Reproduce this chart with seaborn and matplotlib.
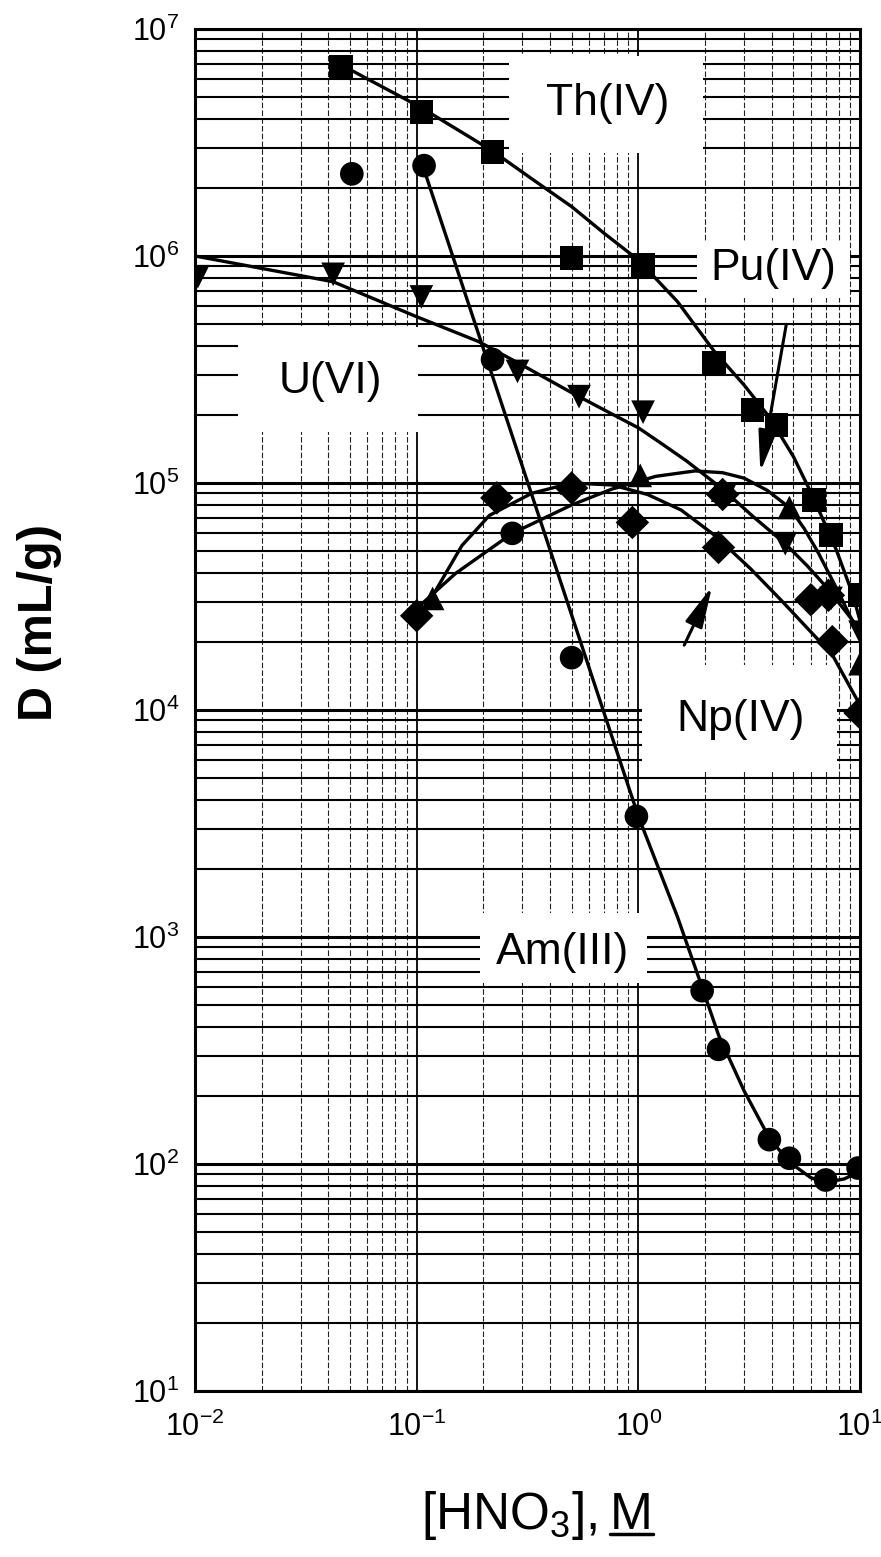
import numpy as np
import pandas as pd
import matplotlib
matplotlib.use("Agg")
import matplotlib.pyplot as plt
from matplotlib.patches import Rectangle
from matplotlib.lines import Line2D
from matplotlib.ticker import NullFormatter
import seaborn as sns

# measured points (HNO3 molarity, D in mL/g)
th_x = [0.0455, 0.105, 0.22, 0.5, 1.05, 2.2, 3.27, 4.2, 6.2, 7.4, 10.0]
th_y = [6.8e6, 4.3e6, 2.87e6, 9.8e5, 9.1e5, 3.4e5, 2.1e5, 1.8e5, 8.4e4, 5.9e4, 3.2e4]

am_x = [0.051, 0.108, 0.22, 0.27, 0.5, 0.98, 1.94, 2.3, 3.9, 4.8, 7.0, 9.8]
am_y = [2.3e6, 2.5e6, 3.5e5, 6.0e4, 1.7e4, 3.4e3, 5.8e2, 3.2e2, 1.28e2, 1.06e2, 85, 96]

u_x = [0.0103, 0.042, 0.105, 0.285, 0.54, 1.05, 2.45, 4.6, 7.4, 10.0]
u_y = [8.1e5, 8.3e5, 6.6e5, 3.1e5, 2.4e5, 2.05e5, 8.8e4, 5.4e4, 3.1e4, 2.2e4]

pu_x = [0.118, 0.5, 1.02, 2.4, 4.8, 7.4, 10.0]
pu_y = [3.1e4, 1.0e5, 1.08e5, 9.3e4, 7.8e4, 3.4e4, 1.6e4]

np_x = [0.1, 0.23, 0.5, 0.94, 2.3, 2.4, 6.0, 7.2, 7.5, 10.0]
np_y = [2.6e4, 8.6e4, 9.5e4, 6.7e4, 5.2e4, 8.9e4, 3.06e4, 3.2e4, 2.0e4, 9.7e3]

# fitted curves
th_cx = [0.045, 0.105, 0.22, 0.33, 0.5, 0.7, 1.0, 1.5, 2.2, 3.0, 3.9, 5.0, 6.1, 7.8, 9.3, 10.2]
th_cy = [7.0e6, 4.5e6, 2.9e6, 2.19e6, 1.65e6, 1.26e6, 9.6e5, 6.3e5, 3.8e5, 2.7e5,
         1.95e5, 1.31e5, 8.8e4, 5.1e4, 3.2e4, 2.3e4]

u_cx = [0.01, 0.042, 0.1, 0.19, 0.3, 0.5, 0.7, 1.0, 1.3, 1.65, 2.0, 2.4, 3.3, 4.6,
        5.8, 7.2, 8.5, 10.2]
u_cy = [1.0e6, 7.7e5, 5.4e5, 4.2e5, 3.3e5, 2.5e5, 2.1e5, 1.75e5, 1.47e5, 1.25e5,
        1.08e5, 9.4e4, 7.1e4, 5.4e4, 4.3e4, 3.4e4, 2.76e4, 2.2e4]

am_cx = [0.108, 1.0, 1.5, 1.94, 2.3, 3.0, 3.9, 4.8, 6.0, 7.0, 8.5, 10.0]
am_cy = [2.4e6, 3.4e3, 1.23e3, 6.0e2, 3.7e2, 2.1e2, 1.3e2, 1.02e2, 87, 83, 86, 93]

pu_cx = [0.096, 0.15, 0.27, 0.5, 0.76, 1.2, 1.8, 2.4, 3.0, 3.8, 4.8, 5.6, 6.5, 8.0, 10.0]
pu_cy = [2.7e4, 4.0e4, 6.0e4, 8.0e4, 9.4e4, 1.07e5, 1.13e5, 1.11e5, 1.05e5, 9.3e4,
         7.8e4, 6.3e4, 4.9e4, 3.3e4, 2.1e4]

np_cx = [0.115, 0.16, 0.213, 0.33, 0.5, 0.76, 1.1, 1.56, 2.2, 3.2, 4.4, 7.5, 10.0]
np_cy = [3.05e4, 5.3e4, 7.2e4, 9.0e4, 1.0e5, 9.8e4, 8.9e4, 7.6e4, 5.9e4, 4.2e4,
         3.05e4, 1.75e4, 1.05e4]

sns.set_style("white")
plt.rcParams['font.family'] = ['Liberation Sans', 'DejaVu Sans']
plt.rcParams['mathtext.fontset'] = 'custom'
plt.rcParams['mathtext.rm'] = 'Liberation Sans'
plt.rcParams['mathtext.it'] = 'Liberation Sans:italic'
plt.rcParams['mathtext.bf'] = 'Liberation Sans:bold'
plt.rcParams['axes.unicode_minus'] = False
plt.rcParams['text.color'] = 'black'
plt.rcParams['xtick.color'] = 'black'
plt.rcParams['ytick.color'] = 'black'
plt.rcParams['axes.labelcolor'] = 'black'

pts = pd.concat([
    pd.DataFrame({'conc': th_x, 'D': th_y, 'ion': 'Th'}),
    pd.DataFrame({'conc': am_x, 'D': am_y, 'ion': 'Am'}),
    pd.DataFrame({'conc': u_x, 'D': u_y, 'ion': 'U'}),
    pd.DataFrame({'conc': pu_x, 'D': pu_y, 'ion': 'Pu'}),
    pd.DataFrame({'conc': np_x, 'D': np_y, 'ion': 'Np'}),
], ignore_index=True)

fig = plt.figure(figsize=(8.81, 15.57), dpi=100)
ax = fig.add_axes([0.2213, 0.1066, 0.7549, 0.8748])
ax.set_xscale('log')
ax.set_yscale('log')
ax.set_xlim(1e-2, 1e1)
ax.set_ylim(1e1, 1e7)

for cx, cy in [(th_cx, th_cy), (u_cx, u_cy), (am_cx, am_cy), (pu_cx, pu_cy), (np_cx, np_cy)]:
    sns.lineplot(x=cx, y=cy, ax=ax, color='black', lw=2.4, sort=False,
                 estimator=None, zorder=3)

sns.scatterplot(data=pts, x='conc', y='D', style='ion', ax=ax,
                markers={'Th': 's', 'Am': 'o', 'U': 'v', 'Pu': '^', 'Np': 'D'},
                color='black', s=290, linewidth=0, legend=False, zorder=4)

ax.set_axisbelow(True)
ax.grid(True, which='major', axis='y', color='black', lw=2.2)
ax.grid(True, which='minor', axis='y', color='black', lw=1.5)
ax.grid(True, which='major', axis='x', color='black', lw=1.3)
ax.grid(True, which='minor', axis='x', color='#222222', lw=0.8, ls=(0, (5, 2)))

for s in ax.spines.values():
    s.set_linewidth(2.2)
    s.set_color('black')

ax.xaxis.set_minor_formatter(NullFormatter())
ax.yaxis.set_minor_formatter(NullFormatter())
ax.tick_params(axis='y', which='major', direction='out', length=9.5, width=2, pad=2, labelsize=22)
ax.tick_params(axis='y', which='minor', direction='out', length=5, width=1.8)
ax.tick_params(axis='x', which='major', direction='out', length=12, width=2, pad=3, labelsize=22)
ax.tick_params(axis='x', which='minor', direction='out', length=6, width=1.6)
ax.set_xlabel('')
ax.set_ylabel('')
ax.xaxis.label.set_visible(False)
ax.yaxis.label.set_visible(False)

# label boxes (axes fraction)
boxes = [
    ('Th(IV)', (0.472, 0.909, 0.292, 0.071), (0.621, 0.945)),
    ('U(VI)', (0.065, 0.704, 0.270, 0.077), (0.203, 0.741)),
    ('Pu(IV)', (0.755, 0.8025, 0.230, 0.041), (0.869, 0.8245)),
    ('Np(IV)', (0.672, 0.4545, 0.293, 0.0785), (0.820, 0.4927)),
    ('Am(III)', (0.429, 0.2996, 0.251, 0.0514), (0.553, 0.3223)),
]
for lab, (bx, by, bw, bh), (tx, ty) in boxes:
    ax.add_patch(Rectangle((bx, by), bw, bh, transform=ax.transAxes,
                           facecolor='white', edgecolor='none', zorder=1))
    ax.text(tx, ty, lab, transform=ax.transAxes, fontsize=32,
            ha='center', va='center', zorder=2)

arrow = dict(arrowstyle='-|>,head_length=0.9,head_width=0.2', color='black',
             lw=2.2, mutation_scale=28, shrinkA=0, shrinkB=0)
ax.annotate('', xy=(3.55, 1.12e5), xytext=(4.65, 5.0e5), arrowprops=arrow, zorder=5)
ax.annotate('', xy=(2.15, 3.5e4), xytext=(1.61, 1.93e4), arrowprops=arrow, zorder=5)

fig.text(0.045, 0.600, 'D (mL/g)', rotation=90, fontsize=35, weight='bold',
         ha='center', va='center')
fig.text(0.678, 0.018, '[HNO$_3$],', fontsize=37, ha='right', va='baseline')
m_txt = fig.text(0.692, 0.018, 'M', fontsize=37, ha='left', va='baseline')

fig.canvas.draw()
bb = m_txt.get_window_extent()
W, H = fig.bbox.width, fig.bbox.height
yl = (0.018 * H - 5) / H
fig.add_artist(Line2D([bb.x0 / W, bb.x1 / W], [yl, yl], transform=fig.transFigure,
                      color='black', lw=2.5))

fig.savefig('out.png', dpi=100, facecolor='white')
